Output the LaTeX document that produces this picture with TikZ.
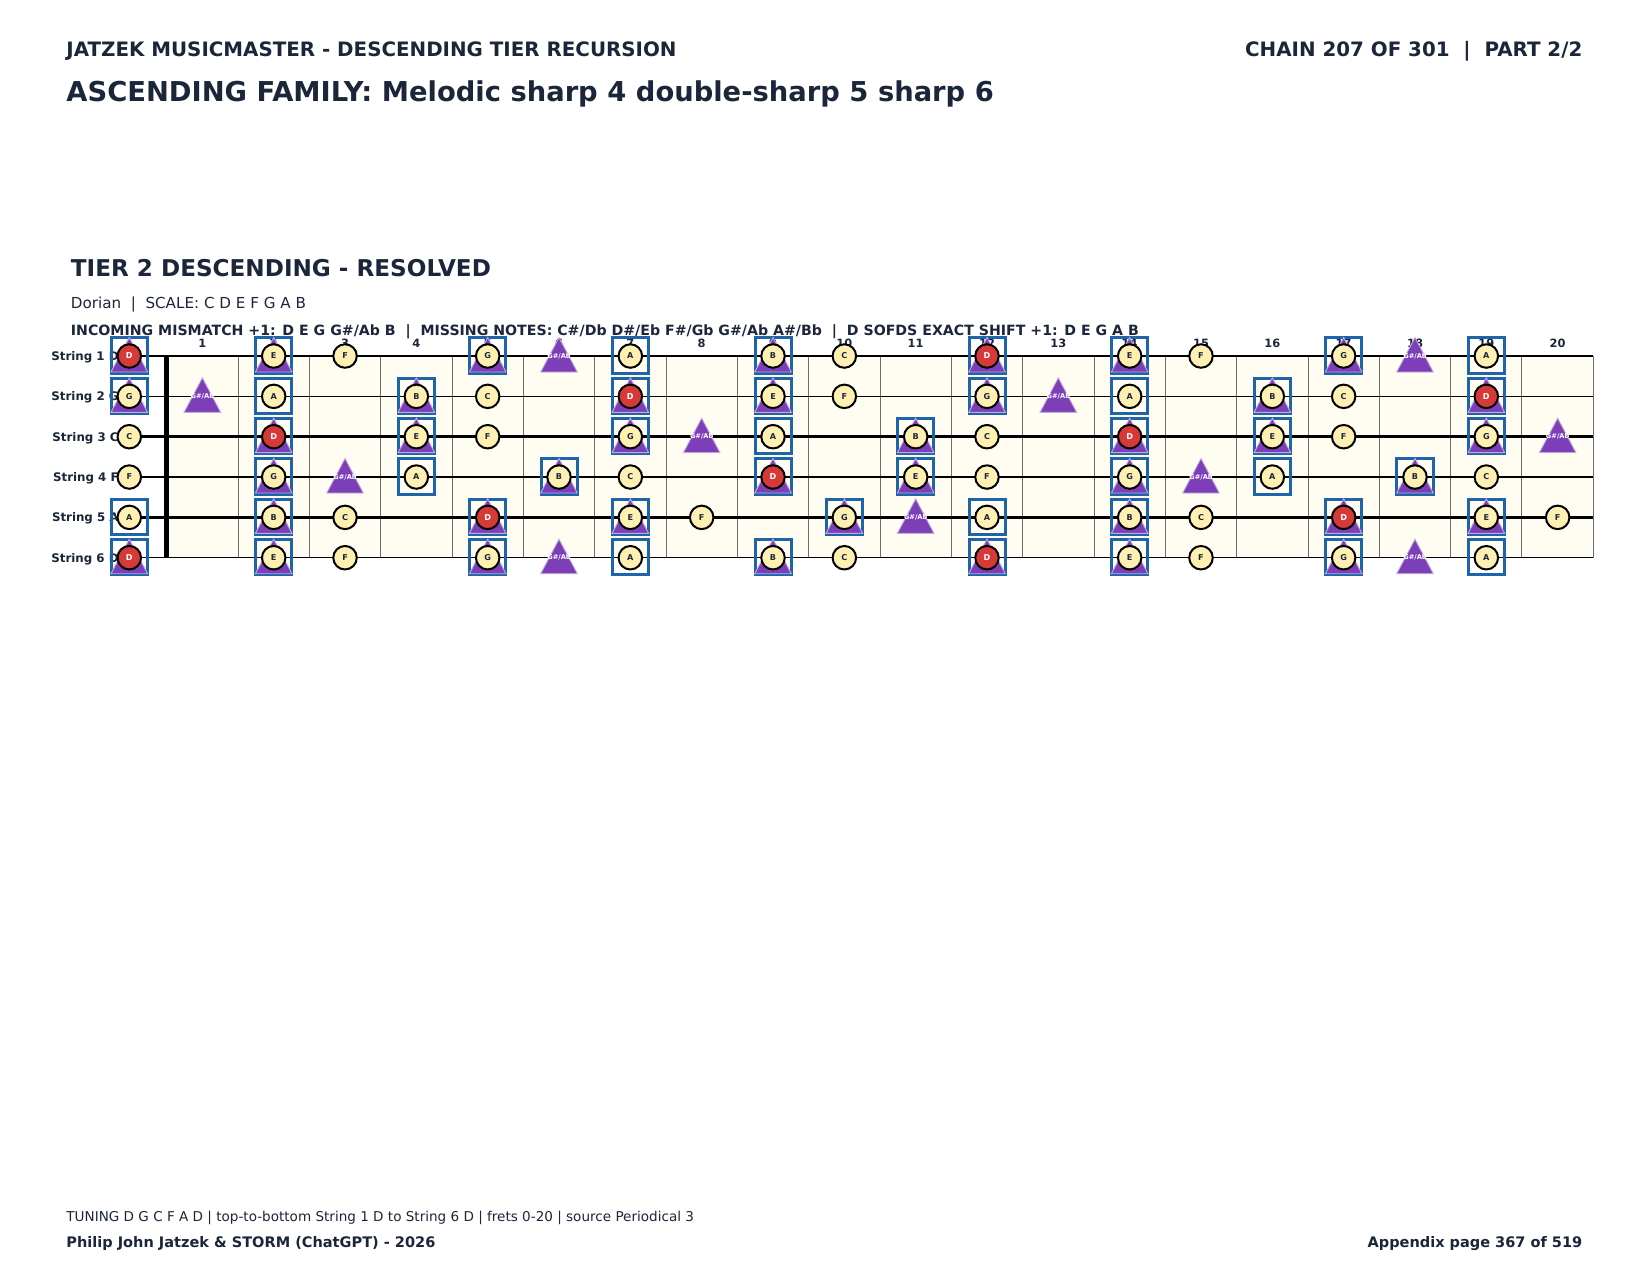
\documentclass[tikz,border=0pt]{standalone}
\usepackage{fontspec}
\setmainfont{DejaVu Sans}
\definecolor{navy}{RGB}{27,38,59}
\definecolor{notered}{RGB}{214,58,56}
\definecolor{notecream}{RGB}{253,240,178}
\definecolor{tripurple}{RGB}{124,63,184}
\definecolor{boxblue}{RGB}{30,100,170}
\definecolor{boardbg}{RGB}{255,253,242}
\definecolor{fretgray}{RGB}{110,110,110}
\newcommand\setnoteflags[1]{%
  \ifcase#1\relax
      \def\nkind{1}\def\ntri{0}\def\nbx{0}\def\nlbl{C}%
  \or \def\nkind{0}\def\ntri{0}\def\nbx{0}\def\nlbl{}%
  \or \def\nkind{2}\def\ntri{1}\def\nbx{1}\def\nlbl{D}%
  \or \def\nkind{0}\def\ntri{0}\def\nbx{0}\def\nlbl{}%
  \or \def\nkind{1}\def\ntri{1}\def\nbx{1}\def\nlbl{E}%
  \or \def\nkind{1}\def\ntri{0}\def\nbx{0}\def\nlbl{F}%
  \or \def\nkind{0}\def\ntri{0}\def\nbx{0}\def\nlbl{}%
  \or \def\nkind{1}\def\ntri{1}\def\nbx{1}\def\nlbl{G}%
  \or \def\nkind{3}\def\ntri{1}\def\nbx{0}\def\nlbl{G\#/Ab}%
  \or \def\nkind{1}\def\ntri{0}\def\nbx{1}\def\nlbl{A}%
  \or \def\nkind{0}\def\ntri{0}\def\nbx{0}\def\nlbl{}%
  \or \def\nkind{1}\def\ntri{1}\def\nbx{1}\def\nlbl{B}%
  \fi}
\tikzset{
  txt/.style={inner sep=0pt, text=navy},
  hdrfont/.style={font=\bfseries\fontsize{9.56}{11}\selectfont},
  titlefont/.style={font=\bfseries\fontsize{13.18}{15}\selectfont},
  tierfont/.style={font=\bfseries\fontsize{11.14}{13}\selectfont},
  smallfont/.style={font=\fontsize{7.3}{9}\selectfont},
  smallbold/.style={font=\bfseries\fontsize{6.82}{9}\selectfont},
  footfont/.style={font=\fontsize{6.53}{8}\selectfont},
  footbold/.style={font=\bfseries\fontsize{7.0}{9}\selectfont},
  stringlbl/.style={txt, anchor=base east, font=\bfseries\fontsize{5.7}{7}\selectfont},
  fretnum/.style={txt, anchor=base, font=\bfseries\fontsize{5.5}{7}\selectfont},
  fretline/.style={draw=fretgray, line width=1*0.4818pt},
  thinstring/.style={draw=black, line width=1.5*0.4818pt},
  thickstring/.style={draw=black, line width=2.8*0.4818pt},
  nut/.style={draw=black, line width=4.5*0.4818pt},
  notebox/.style={draw=boxblue, line width=3*0.4818pt, rectangle, minimum width=36*0.4818pt, minimum height=35.5*0.4818pt, inner sep=0pt},
  tristyle/.style={fill=tripurple, draw=white!55!tripurple, line width=0.9*0.4818pt},
  notecirc/.style={circle, draw=black, line width=2*0.4818pt, minimum size=23.5*0.4818pt, inner sep=0pt, font=\bfseries\fontsize{3.9}{4}\selectfont},
  creamnote/.style={notecirc, fill=notecream, text=navy},
  rednote/.style={notecirc, fill=notered, text=white},
  trilbl/.style={inner sep=0pt, text=white, font=\bfseries\fontsize{3.2}{4}\selectfont},
}
\begin{document}
\begin{tikzpicture}[x=0.4818pt,y=-0.4818pt]
\fill[white] (0,0) rectangle (1650,1275);
\useasboundingbox (0,0) rectangle (1650,1275);
% header
\node[txt, hdrfont, anchor=base west] (hdr) at (66,56.5) {JATZEK MUSICMASTER - DESCENDING TIER RECURSION};
\node[txt, hdrfont, anchor=base east] (hdrr) at (1582.7,56.5) {CHAIN 207 OF 301\ \ |\ \ PART 2/2};
\node[txt, titlefont, anchor=base west] (title) at (66,101.5) {ASCENDING FAMILY: Melodic sharp 4 double-sharp 5 sharp 6};
\node[txt, tierfont, anchor=base west] (tier) at (70.5,276.7) {TIER 2 DESCENDING - RESOLVED};
\node[txt, smallfont, anchor=base west] (mode) at (70.5,308) {Dorian\ \ |\ \ SCALE: C D E F G A B};
\node[txt, smallbold, anchor=base west] (info) at (70.5,335) {INCOMING MISMATCH +1: D E G G\#/Ab B\ \ |\ \ MISSING NOTES: C\#/Db D\#/Eb F\#/Gb G\#/Ab A\#/Bb\ \ |\ \ D SOFDS EXACT SHIFT +1: D E G A B};
% board
\fill[boardbg] (166.7,356) rectangle (1593.3,557.7);
\foreach \f in {1,...,20}{
  \draw[fretline] (166.7+\f*71.33,356) -- (166.7+\f*71.33,557.7);
  \node[fretnum] (fn\f) at (166.7+\f*71.33-35.665,347) {\f};
}
\foreach \s/\lab in {1/D,2/G,3/C,4/F,5/A,6/D}{
  \pgfmathsetmacro\yy{356+(\s-1)*40.34}
  \ifnum\s=3 \def\sst{thickstring}\else\ifnum\s=5 \def\sst{thickstring}\else\def\sst{thinstring}\fi\fi
  \draw[\sst] (129.3,\yy) -- (1593.3,\yy);
  \node[stringlbl] (sl\s) at (119,\yy+4.5) {String \s\ \lab};
}
\draw[nut] (166.7,356) -- (166.7,557.7);
% notes
\foreach \s/\t in {1/2,2/7,3/0,4/5,5/9,6/2}{
  \foreach \f in {0,...,20}{
    \pgfmathtruncatemacro\nn{mod(\t+\f,12)}
    \pgfmathsetmacro\xx{\f==0 ? 129.3 : 166.7+(\f-0.5)*71.33}
    \pgfmathsetmacro\yy{356+(\s-1)*40.34}
    \setnoteflags{\nn}
    \ifnum\nbx=1
      \node[notebox] (b-\s-\f) at (\xx,\yy-0.5) {};
    \fi
    \ifnum\ntri=1
      \filldraw[tristyle] (\xx,\yy-18.5) -- (\xx+18.3,\yy+16) -- (\xx-18.3,\yy+16) -- cycle;
    \fi
    \ifnum\nkind=1
      \node[creamnote] (n-\s-\f) at (\xx,\yy) {\nlbl};
    \fi
    \ifnum\nkind=2
      \node[rednote] (n-\s-\f) at (\xx,\yy) {\nlbl};
    \fi
    \ifnum\nkind=3
      \node[trilbl] (g-\s-\f) at (\xx,\yy) {\nlbl};
    \fi
  }
}
% footer
\node[txt, footfont, anchor=base west] (foot1) at (66,1221) {TUNING D G C F A D | top-to-bottom String 1 D to String 6 D | frets 0-20 | source Periodical 3};
\node[txt, footbold, anchor=base west] (foot2) at (66,1247.5) {Philip John Jatzek \& STORM (ChatGPT) - 2026};
\node[txt, footbold, anchor=base east] (foot3) at (1582.7,1247.5) {Appendix page 367 of 519};
\end{tikzpicture}
\end{document}
